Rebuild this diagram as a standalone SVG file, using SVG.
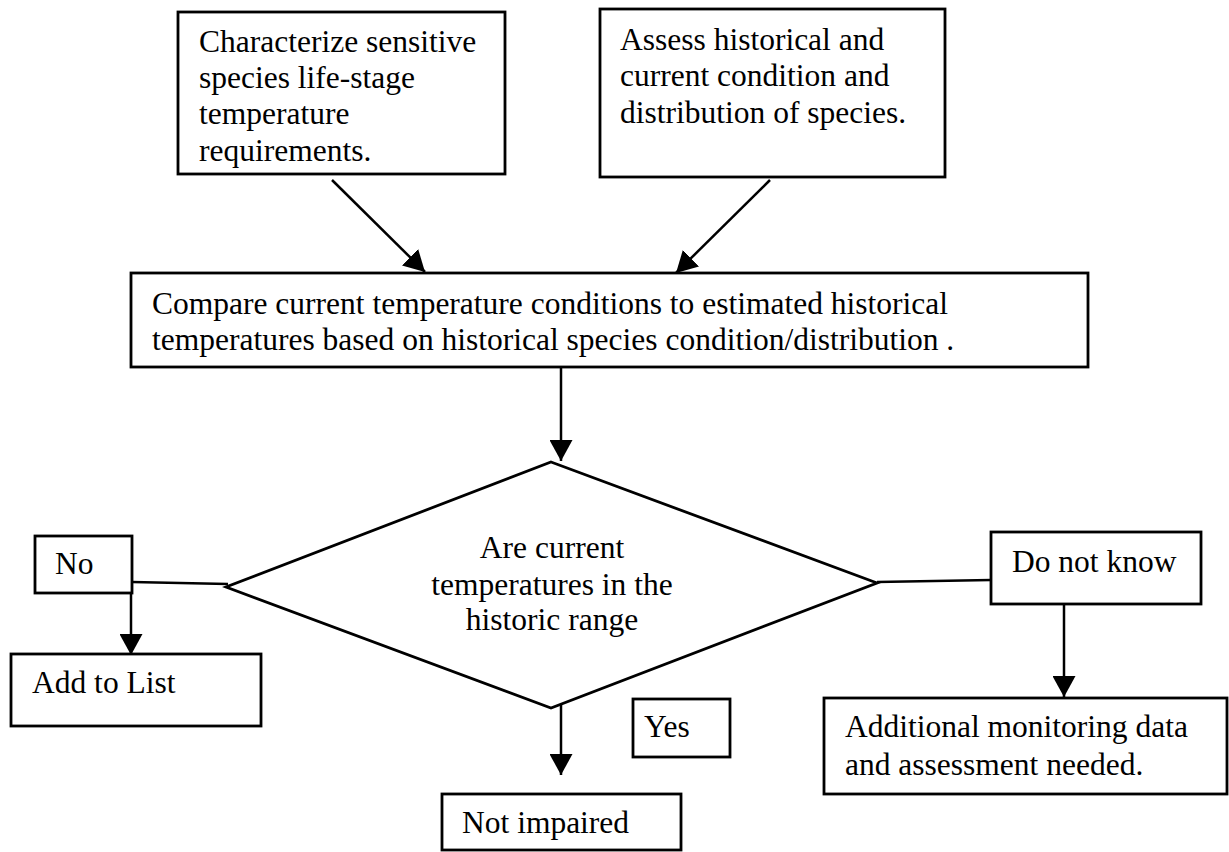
<svg xmlns="http://www.w3.org/2000/svg" width="1229" height="852" viewBox="0 0 1229 852">
<defs>
<style>
.box{fill:#fff;stroke:#000;stroke-width:2.8}
.t{font-family:"Liberation Serif","Times New Roman",serif;font-size:31.5px;fill:#000}
.c{text-anchor:middle}
.ln{stroke:#000;stroke-width:2.5;fill:none}
</style>
<marker id="ah" viewBox="0 0 21 23" refX="21" refY="11.5" markerWidth="21" markerHeight="23" markerUnits="userSpaceOnUse" orient="auto">
<path d="M0,0 L21,11.5 L0,23 z" fill="#000"/>
</marker>
</defs>
<rect width="1229" height="852" fill="#fff"/>
<g id="connectors">
<line class="ln" x1="332" y1="180" x2="425" y2="272" marker-end="url(#ah)"/>
<line class="ln" x1="770" y1="180" x2="676" y2="273" marker-end="url(#ah)"/>
<line class="ln" x1="561" y1="368" x2="561" y2="461" marker-end="url(#ah)"/>
<line class="ln" x1="132" y1="582" x2="228" y2="584"/>
<line class="ln" x1="131" y1="593" x2="131" y2="655" marker-end="url(#ah)"/>
<line class="ln" x1="877" y1="582" x2="991" y2="580"/>
<line class="ln" x1="1064" y1="604" x2="1064" y2="697" marker-end="url(#ah)"/>
<line class="ln" x1="561" y1="703" x2="561" y2="775" marker-end="url(#ah)"/>
</g>
<g id="n-characterize">
<rect class="box" x="178" y="12" width="327" height="162"/>
<text class="t" x="199" y="52">Characterize sensitive</text>
<text class="t" x="199" y="88">species life-stage</text>
<text class="t" x="199" y="124">temperature</text>
<text class="t" x="199" y="161">requirements.</text>
</g>
<g id="n-assess">
<rect class="box" x="600" y="9" width="345" height="168"/>
<text class="t" x="620" y="50">Assess historical and</text>
<text class="t" x="620" y="86">current condition and</text>
<text class="t" x="620" y="123">distribution of species.</text>
</g>
<g id="n-compare">
<rect class="box" x="131" y="273" width="957" height="94"/>
<text class="t" x="152" y="314">Compare current temperature conditions to estimated historical</text>
<text class="t" x="152" y="350">temperatures based on historical species condition/distribution .</text>
</g>
<g id="n-decision">
<polygon class="box" points="551,462 877,583 551,708 226,587"/>
<text class="t c" x="552" y="558">Are current</text>
<text class="t c" x="552" y="595">temperatures in the</text>
<text class="t c" x="552" y="630">historic range</text>
</g>
<g id="n-no">
<rect class="box" x="35" y="536" width="97" height="57"/>
<text class="t" x="55" y="574">No</text>
</g>
<g id="n-addlist">
<rect class="box" x="11" y="654" width="250" height="72"/>
<text class="t" x="32" y="693">Add to List</text>
</g>
<g id="n-yes">
<rect class="box" x="633" y="699" width="97" height="58"/>
<text class="t" x="644" y="737">Yes</text>
</g>
<g id="n-notimpaired">
<rect class="box" x="442" y="794" width="239" height="56"/>
<text class="t" x="462" y="833">Not impaired</text>
</g>
<g id="n-donotknow">
<rect class="box" x="991" y="532" width="210" height="72"/>
<text class="t" x="1012" y="572">Do not know</text>
</g>
<g id="n-additional">
<rect class="box" x="824" y="698" width="403" height="96"/>
<text class="t" x="845" y="737">Additional monitoring data</text>
<text class="t" x="845" y="775">and assessment needed.</text>
</g>
</svg>
